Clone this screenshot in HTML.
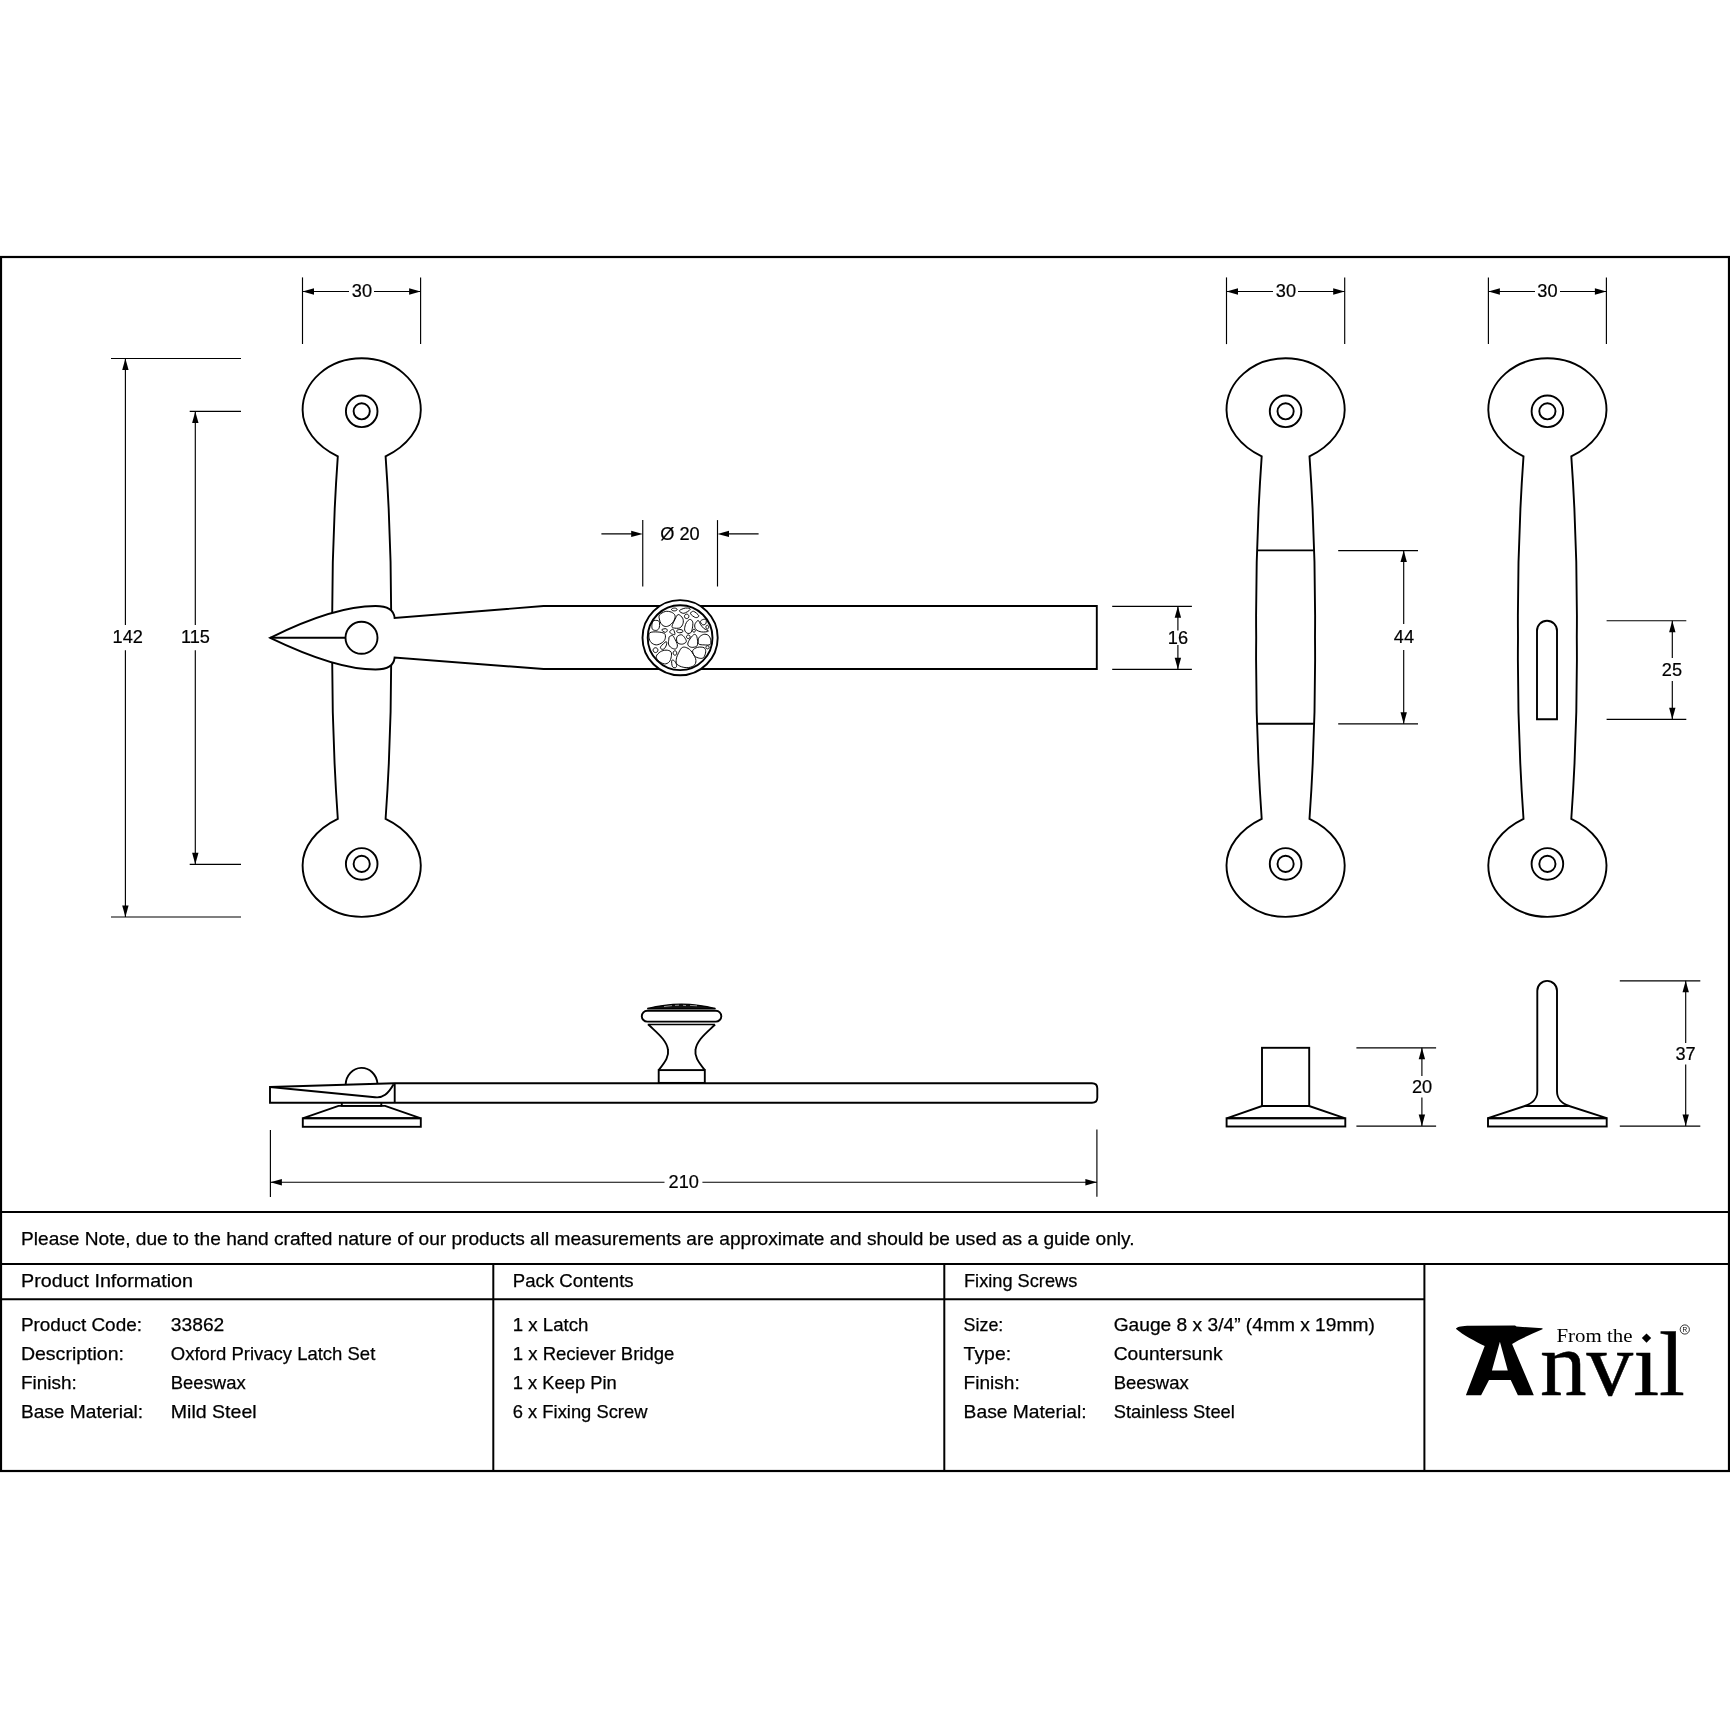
<!DOCTYPE html><html><head><meta charset="utf-8"><style>html,body{margin:0;padding:0;background:#fff;}svg{display:block;will-change:transform;} .d{font-family:"Liberation Sans",sans-serif;fill:#000;stroke:#000;stroke-width:0.2px;} .t{font-family:"Liberation Sans",sans-serif;fill:#000;font-size:18.6px;stroke:#000;stroke-width:0.25px;}</style></head><body>
<svg width="1730" height="1730" viewBox="0 0 1730 1730">
<rect x="0" y="0" width="1730" height="1730" fill="#fff"/>
<path d="M337.8,456.4 C316.0,446 302.6,428 302.6,410 C302.6,381.3 329.1,358.3 361.7,358.3 C394.3,358.3 420.8,381.3 420.8,410 C420.8,428 407.4,446 385.6,456.4 Q392.0,547 391.1,637.6 Q392.0,728 385.6,818.8 C407.4,829.2 420.8,847.2 420.8,865.2 C420.8,893.9 394.3,916.9 361.7,916.9 C329.1,916.9 302.6,893.9 302.6,865.2 C302.6,847.2 316.0,829.2 337.8,818.8 Q331.4,728 332.3,637.6 Q331.4,547 337.8,456.4 Z" stroke="#000" stroke-width="1.9" fill="none"/>
<circle cx="361.7" cy="411.3" r="15.8" stroke="#000" stroke-width="1.9" fill="none"/>
<circle cx="361.7" cy="411.3" r="8.1" stroke="#000" stroke-width="1.9" fill="none"/>
<circle cx="361.7" cy="863.9" r="15.8" stroke="#000" stroke-width="1.9" fill="none"/>
<circle cx="361.7" cy="863.9" r="8.1" stroke="#000" stroke-width="1.9" fill="none"/>
<path d="M270.2,637.8 C310,618 345,606 375.5,606 C388,606 394,611 394.6,618 L543.5,606 L1096.8,606 L1096.8,669 L543.5,669 L394.6,657.6 C394,664.5 388,669.5 375.5,669.5 C345,669.5 310,657 270.2,637.8 Z" fill="#fff" stroke="#000" stroke-width="1.9" stroke-linejoin="miter"/>
<line x1="270.2" y1="637.8" x2="345.5" y2="637.8" stroke="#000" stroke-width="1.9" fill="none"/>
<circle cx="361.5" cy="637.8" r="16" stroke="#000" stroke-width="1.9" fill="none"/>
<circle cx="680.1" cy="637.7" r="37.6" fill="#fff" stroke="#000" stroke-width="1.9"/>
<circle cx="680.1" cy="637.7" r="32.4" fill="#fff" stroke="#000" stroke-width="1.9"/>
<clipPath id="kc"><circle cx="680.1" cy="637.7" r="32.4"/></clipPath><g clip-path="url(#kc)"><g transform="translate(645,602) scale(0.040463)" fill="none" stroke="#000" stroke-width="24">
<path d="M795,185 C795,193 786,204 774,210 C762,216 741,220 725,220 C709,220 688,216 676,210 C664,204 655,193 655,185 C655,177 664,166 676,160 C688,154 709,150 725,150 C741,150 762,154 774,160 C786,166 795,177 795,185 Z"/>
<path d="M850,215 C857,193 955,156 1000,150 C1045,144 1127,158 1120,180 C1113,202 1005,274 960,280 C915,286 843,237 850,215 Z"/>
<path d="M1125,290 C1117,264 1166,222 1200,230 C1234,238 1322,314 1330,340 C1338,366 1284,393 1250,385 C1216,377 1133,316 1125,290 Z"/>
<path d="M1085,355 C1085,368 1078,385 1069,394 C1060,403 1043,410 1030,410 C1017,410 1000,403 991,394 C982,385 975,368 975,355 C975,342 982,325 991,316 C1000,307 1017,300 1030,300 C1043,300 1060,307 1069,316 C1078,325 1085,342 1085,355 Z"/>
<path d="M360,320 C384,289 452,247 500,235 C548,223 610,234 650,250 C690,266 728,297 740,330 C752,363 740,410 720,450 C700,490 657,544 620,570 C583,596 537,610 500,605 C463,600 424,571 400,540 C376,509 362,457 355,420 C348,383 336,351 360,320 Z"/>
<path d="M820,310 C852,305 910,363 930,400 C950,437 952,490 940,530 C928,570 900,622 860,640 C820,658 732,648 700,640 C668,632 663,625 670,590 C677,555 715,477 740,430 C765,383 788,315 820,310 Z"/>
<path d="M200,470 C225,450 293,452 320,460 C347,468 355,490 360,520 C365,550 362,610 350,640 C338,670 317,693 290,700 C263,707 210,700 190,680 C170,660 168,615 170,580 C172,545 175,490 200,470 Z"/>
<path d="M1120,430 C1142,435 1172,463 1180,500 C1188,537 1178,607 1170,650 C1162,693 1152,740 1130,760 C1108,780 1065,782 1040,770 C1015,758 987,725 980,690 C973,655 988,597 1000,560 C1012,523 1030,492 1050,470 C1070,448 1098,425 1120,430 Z"/>
<path d="M1300,460 C1283,475 1237,523 1230,560 C1223,597 1232,650 1260,680 C1288,710 1348,733 1400,740 C1452,747 1562,735 1570,720 C1578,705 1483,678 1450,650 C1417,622 1390,580 1370,550 C1350,520 1342,485 1330,470 C1318,455 1317,445 1300,460 Z"/>
<path d="M1370,480 C1373,458 1417,437 1440,430 C1463,423 1500,422 1510,440 C1520,458 1515,520 1500,540 C1485,560 1442,570 1420,560 C1398,550 1367,502 1370,480 Z"/>
<path d="M1575,620 C1575,631 1571,644 1565,652 C1559,660 1548,665 1540,665 C1532,665 1521,660 1515,652 C1509,644 1505,631 1505,620 C1505,609 1509,596 1515,588 C1521,580 1532,575 1540,575 C1548,575 1559,580 1565,588 C1571,596 1575,609 1575,620 Z"/>
<path d="M420,680 C433,670 498,655 520,660 C542,665 553,695 550,710 C547,725 518,748 500,750 C482,752 453,732 440,720 C427,708 407,690 420,680 Z"/>
<path d="M640,700 C655,690 683,663 700,680 C717,697 747,782 740,800 C733,818 682,800 660,790 C638,780 613,755 610,740 C607,725 625,710 640,700 Z"/>
<path d="M940,720 C940,729 930,741 917,748 C904,755 879,760 860,760 C841,760 816,755 803,748 C790,741 780,729 780,720 C780,711 790,699 803,692 C816,685 841,680 860,680 C879,680 904,685 917,692 C930,699 940,711 940,720 Z"/>
<path d="M1245,710 C1245,718 1241,729 1235,735 C1229,741 1218,745 1210,745 C1202,745 1191,741 1185,735 C1179,729 1175,718 1175,710 C1175,702 1179,691 1185,685 C1191,679 1202,675 1210,675 C1218,675 1229,679 1235,685 C1241,691 1245,702 1245,710 Z"/>
<path d="M120,760 C153,737 240,737 300,740 C360,743 447,753 480,780 C513,807 508,863 500,900 C492,937 467,973 430,1000 C393,1027 327,1060 280,1060 C233,1060 180,1030 150,1000 C120,970 105,920 100,880 C95,840 87,783 120,760 Z"/>
<path d="M600,860 C615,845 658,823 680,830 C702,837 710,862 730,900 C750,938 795,1017 800,1060 C805,1103 785,1148 760,1160 C735,1172 680,1150 650,1130 C620,1110 590,1075 580,1040 C570,1005 587,950 590,920 C593,890 585,875 600,860 Z"/>
<path d="M800,850 C820,828 870,805 900,810 C930,815 960,852 980,880 C1000,908 1028,953 1020,980 C1012,1007 963,1033 930,1040 C897,1047 845,1037 820,1020 C795,1003 783,968 780,940 C777,912 780,872 800,850 Z"/>
<path d="M1115,860 C1115,871 1110,884 1102,892 C1094,900 1081,905 1070,905 C1059,905 1046,900 1038,892 C1030,884 1025,871 1025,860 C1025,849 1030,836 1038,828 C1046,820 1059,815 1070,815 C1081,815 1094,820 1102,828 C1110,836 1115,849 1115,860 Z"/>
<path d="M1200,810 C1230,790 1253,802 1270,830 C1287,858 1298,937 1300,980 C1302,1023 1305,1067 1280,1090 C1255,1113 1187,1125 1150,1120 C1113,1115 1070,1088 1060,1060 C1050,1032 1067,992 1090,950 C1113,908 1170,830 1200,810 Z"/>
<path d="M1340,870 C1362,845 1413,808 1450,800 C1487,792 1532,800 1560,820 C1588,840 1612,882 1620,920 C1628,958 1637,1027 1610,1050 C1583,1073 1507,1062 1460,1060 C1413,1058 1353,1058 1330,1040 C1307,1022 1318,978 1320,950 C1322,922 1318,895 1340,870 Z"/>
<path d="M520,980 C543,973 538,1030 530,1060 C522,1090 492,1143 470,1160 C448,1177 413,1170 400,1160 C387,1150 370,1130 390,1100 C410,1070 497,987 520,980 Z"/>
<path d="M320,1190 C320,1204 312,1222 302,1232 C292,1242 274,1250 260,1250 C246,1250 228,1242 218,1232 C208,1222 200,1204 200,1190 C200,1176 208,1158 218,1148 C228,1138 246,1130 260,1130 C274,1130 292,1138 302,1148 C312,1158 320,1176 320,1190 Z"/>
<path d="M280,1340 C288,1303 340,1255 380,1230 C420,1205 477,1190 520,1190 C563,1190 618,1203 640,1230 C662,1257 657,1308 650,1350 C643,1392 628,1450 600,1480 C572,1510 525,1535 480,1530 C435,1525 363,1482 330,1450 C297,1418 272,1377 280,1340 Z"/>
<path d="M785,1260 C785,1273 780,1290 772,1299 C764,1308 751,1315 740,1315 C729,1315 716,1308 708,1299 C700,1290 695,1273 695,1260 C695,1247 700,1230 708,1221 C716,1212 729,1205 740,1205 C751,1205 764,1212 772,1221 C780,1230 785,1247 785,1260 Z"/>
<path d="M820,1280 C840,1240 870,1167 900,1140 C930,1113 962,1110 1000,1120 C1038,1130 1088,1153 1130,1200 C1172,1247 1233,1342 1250,1400 C1267,1458 1258,1513 1230,1550 C1202,1587 1135,1612 1080,1620 C1025,1628 950,1617 900,1600 C850,1583 800,1557 780,1520 C760,1483 773,1420 780,1380 C787,1340 800,1320 820,1280 Z"/>
<path d="M1180,1200 C1193,1165 1253,1132 1300,1120 C1347,1108 1427,1112 1460,1130 C1493,1148 1502,1190 1500,1230 C1498,1270 1475,1343 1450,1370 C1425,1397 1388,1397 1350,1390 C1312,1383 1248,1362 1220,1330 C1192,1298 1167,1235 1180,1200 Z"/>
<path d="M1585,1120 C1585,1129 1580,1141 1573,1148 C1566,1155 1554,1160 1545,1160 C1536,1160 1524,1155 1517,1148 C1510,1141 1505,1129 1505,1120 C1505,1111 1510,1099 1517,1092 C1524,1085 1536,1080 1545,1080 C1554,1080 1566,1085 1573,1092 C1580,1099 1585,1111 1585,1120 Z"/>
<path d="M660,1450 C667,1425 700,1433 720,1450 C740,1467 773,1522 780,1550 C787,1578 777,1612 760,1620 C743,1628 697,1628 680,1600 C663,1572 653,1475 660,1450 Z"/>
</g></g>
<line x1="302.5" y1="277.4" x2="302.5" y2="344.0" stroke="#000" stroke-width="1.15" fill="none"/>
<line x1="420.6" y1="277.4" x2="420.6" y2="344.0" stroke="#000" stroke-width="1.15" fill="none"/>
<line x1="302.5" y1="291.5" x2="349" y2="291.5" stroke="#000" stroke-width="1.15" fill="none"/>
<line x1="374" y1="291.5" x2="420.6" y2="291.5" stroke="#000" stroke-width="1.15" fill="none"/>
<path d="M302.5,291.5 L314.0,288.3 L314.0,294.7 Z" fill="#000"/>
<path d="M420.6,291.5 L409.1,294.7 L409.1,288.3 Z" fill="#000"/>
<text x="361.9" y="296.8" text-anchor="middle" font-size="18.2" class="d">30</text>
<line x1="111.0" y1="358.5" x2="241.0" y2="358.5" stroke="#000" stroke-width="1.15" fill="none"/>
<line x1="111.0" y1="917.0" x2="241.0" y2="917.0" stroke="#000" stroke-width="1.15" fill="none"/>
<line x1="125.4" y1="358.5" x2="125.4" y2="625" stroke="#000" stroke-width="1.15" fill="none"/>
<line x1="125.4" y1="650.2" x2="125.4" y2="917.0" stroke="#000" stroke-width="1.15" fill="none"/>
<path d="M125.4,358.5 L128.6,370.0 L122.2,370.0 Z" fill="#000"/>
<path d="M125.4,917.0 L122.2,905.5 L128.6,905.5 Z" fill="#000"/>
<text x="127.7" y="642.9" text-anchor="middle" font-size="18.2" class="d">142</text>
<line x1="189.7" y1="411.4" x2="241.0" y2="411.4" stroke="#000" stroke-width="1.15" fill="none"/>
<line x1="189.7" y1="864.3" x2="241.0" y2="864.3" stroke="#000" stroke-width="1.15" fill="none"/>
<line x1="195.3" y1="411.4" x2="195.3" y2="625" stroke="#000" stroke-width="1.15" fill="none"/>
<line x1="195.3" y1="650.2" x2="195.3" y2="864.3" stroke="#000" stroke-width="1.15" fill="none"/>
<path d="M195.3,411.4 L198.5,422.9 L192.1,422.9 Z" fill="#000"/>
<path d="M195.3,864.3 L192.1,852.8 L198.5,852.8 Z" fill="#000"/>
<text x="195.4" y="642.9" text-anchor="middle" font-size="18.2" class="d">115</text>
<line x1="642.75" y1="520.1" x2="642.75" y2="586.5" stroke="#000" stroke-width="1.15" fill="none"/>
<line x1="717.5" y1="520.1" x2="717.5" y2="586.5" stroke="#000" stroke-width="1.15" fill="none"/>
<line x1="601.4" y1="533.9" x2="636" y2="533.9" stroke="#000" stroke-width="1.15" fill="none"/>
<line x1="724" y1="533.9" x2="758.6" y2="533.9" stroke="#000" stroke-width="1.15" fill="none"/>
<path d="M642.8,533.9 L631.2,537.1 L631.2,530.7 Z" fill="#000"/>
<path d="M717.5,533.9 L729.0,530.7 L729.0,537.1 Z" fill="#000"/>
<text x="680" y="540.2" text-anchor="middle" font-size="18.2" class="d">Ø 20</text>
<line x1="1112.2" y1="606.3" x2="1191.9" y2="606.3" stroke="#000" stroke-width="1.15" fill="none"/>
<line x1="1112.2" y1="669.3" x2="1191.9" y2="669.3" stroke="#000" stroke-width="1.15" fill="none"/>
<line x1="1177.9" y1="606.3" x2="1177.9" y2="630.5" stroke="#000" stroke-width="1.15" fill="none"/>
<line x1="1177.9" y1="645" x2="1177.9" y2="669.3" stroke="#000" stroke-width="1.15" fill="none"/>
<path d="M1177.9,606.3 L1181.1,617.8 L1174.7,617.8 Z" fill="#000"/>
<path d="M1177.9,669.3 L1174.7,657.8 L1181.1,657.8 Z" fill="#000"/>
<text x="1177.9" y="643.8" text-anchor="middle" font-size="18.2" class="d">16</text>
<path d="M1261.7,456.4 C1239.9,446 1226.5,428 1226.5,410 C1226.5,381.3 1253.0,358.3 1285.6,358.3 C1318.2,358.3 1344.7,381.3 1344.7,410 C1344.7,428 1331.3,446 1309.5,456.4 Q1315.9,547 1315.0,637.6 Q1315.9,728 1309.5,818.8 C1331.3,829.2 1344.7,847.2 1344.7,865.2 C1344.7,893.9 1318.2,916.9 1285.6,916.9 C1253.0,916.9 1226.5,893.9 1226.5,865.2 C1226.5,847.2 1239.9,829.2 1261.7,818.8 Q1255.3,728 1256.2,637.6 Q1255.3,547 1261.7,456.4 Z" stroke="#000" stroke-width="1.9" fill="none"/>
<circle cx="1285.6" cy="411.3" r="15.8" stroke="#000" stroke-width="1.9" fill="none"/>
<circle cx="1285.6" cy="411.3" r="8.1" stroke="#000" stroke-width="1.9" fill="none"/>
<circle cx="1285.6" cy="863.9" r="15.8" stroke="#000" stroke-width="1.9" fill="none"/>
<circle cx="1285.6" cy="863.9" r="8.1" stroke="#000" stroke-width="1.9" fill="none"/>
<line x1="1257.3" y1="550.4" x2="1313.9" y2="550.4" stroke="#000" stroke-width="1.9" fill="none"/>
<line x1="1257.3" y1="723.7" x2="1313.9" y2="723.7" stroke="#000" stroke-width="1.9" fill="none"/>
<line x1="1226.5" y1="277.4" x2="1226.5" y2="344.1" stroke="#000" stroke-width="1.15" fill="none"/>
<line x1="1344.7" y1="277.4" x2="1344.7" y2="344.1" stroke="#000" stroke-width="1.15" fill="none"/>
<line x1="1226.5" y1="291.5" x2="1273" y2="291.5" stroke="#000" stroke-width="1.15" fill="none"/>
<line x1="1298" y1="291.5" x2="1344.7" y2="291.5" stroke="#000" stroke-width="1.15" fill="none"/>
<path d="M1226.5,291.5 L1238.0,288.3 L1238.0,294.7 Z" fill="#000"/>
<path d="M1344.7,291.5 L1333.2,294.7 L1333.2,288.3 Z" fill="#000"/>
<text x="1285.9" y="296.8" text-anchor="middle" font-size="18.2" class="d">30</text>
<line x1="1338.2" y1="550.6" x2="1418.0" y2="550.6" stroke="#000" stroke-width="1.15" fill="none"/>
<line x1="1338.2" y1="723.8" x2="1418.0" y2="723.8" stroke="#000" stroke-width="1.15" fill="none"/>
<line x1="1403.7" y1="550.6" x2="1403.7" y2="624" stroke="#000" stroke-width="1.15" fill="none"/>
<line x1="1403.7" y1="650" x2="1403.7" y2="723.8" stroke="#000" stroke-width="1.15" fill="none"/>
<path d="M1403.7,550.6 L1406.9,562.1 L1400.5,562.1 Z" fill="#000"/>
<path d="M1403.7,723.8 L1400.5,712.3 L1406.9,712.3 Z" fill="#000"/>
<text x="1403.9" y="642.6" text-anchor="middle" font-size="18.2" class="d">44</text>
<path d="M1523.5,456.4 C1501.7,446 1488.3,428 1488.3,410 C1488.3,381.3 1514.8,358.3 1547.4,358.3 C1580.0,358.3 1606.5,381.3 1606.5,410 C1606.5,428 1593.1,446 1571.3,456.4 Q1577.7,547 1576.8,637.6 Q1577.7,728 1571.3,818.8 C1593.1,829.2 1606.5,847.2 1606.5,865.2 C1606.5,893.9 1580.0,916.9 1547.4,916.9 C1514.8,916.9 1488.3,893.9 1488.3,865.2 C1488.3,847.2 1501.7,829.2 1523.5,818.8 Q1517.1,728 1518.0,637.6 Q1517.1,547 1523.5,456.4 Z" stroke="#000" stroke-width="1.9" fill="none"/>
<circle cx="1547.4" cy="411.3" r="15.8" stroke="#000" stroke-width="1.9" fill="none"/>
<circle cx="1547.4" cy="411.3" r="8.1" stroke="#000" stroke-width="1.9" fill="none"/>
<circle cx="1547.4" cy="863.9" r="15.8" stroke="#000" stroke-width="1.9" fill="none"/>
<circle cx="1547.4" cy="863.9" r="8.1" stroke="#000" stroke-width="1.9" fill="none"/>
<path d="M1537,719.2 L1537,630.7 A10,10 0 0 1 1557,630.7 L1557,719.2 Z" stroke="#000" stroke-width="1.9" fill="none"/>
<line x1="1488.4" y1="277.4" x2="1488.4" y2="344.1" stroke="#000" stroke-width="1.15" fill="none"/>
<line x1="1606.4" y1="277.4" x2="1606.4" y2="344.1" stroke="#000" stroke-width="1.15" fill="none"/>
<line x1="1488.4" y1="291.5" x2="1535" y2="291.5" stroke="#000" stroke-width="1.15" fill="none"/>
<line x1="1560" y1="291.5" x2="1606.4" y2="291.5" stroke="#000" stroke-width="1.15" fill="none"/>
<path d="M1488.4,291.5 L1499.9,288.3 L1499.9,294.7 Z" fill="#000"/>
<path d="M1606.4,291.5 L1594.9,294.7 L1594.9,288.3 Z" fill="#000"/>
<text x="1547.4" y="296.8" text-anchor="middle" font-size="18.2" class="d">30</text>
<line x1="1606.6" y1="620.7" x2="1686.3" y2="620.7" stroke="#000" stroke-width="1.15" fill="none"/>
<line x1="1606.6" y1="719.3" x2="1686.3" y2="719.3" stroke="#000" stroke-width="1.15" fill="none"/>
<line x1="1672.3" y1="620.7" x2="1672.3" y2="658" stroke="#000" stroke-width="1.15" fill="none"/>
<line x1="1672.3" y1="681" x2="1672.3" y2="719.3" stroke="#000" stroke-width="1.15" fill="none"/>
<path d="M1672.3,620.7 L1675.5,632.2 L1669.1,632.2 Z" fill="#000"/>
<path d="M1672.3,719.3 L1669.1,707.8 L1675.5,707.8 Z" fill="#000"/>
<text x="1671.9" y="675.9" text-anchor="middle" font-size="18.2" class="d">25</text>
<path d="M270,1087 L394.6,1083.2 L1092,1083.2 Q1097.3,1083.2 1097.3,1088.5 L1097.3,1097.5 Q1097.3,1102.8 1092,1102.8 L270,1102.8 Z" stroke="#000" stroke-width="1.9" fill="none"/>
<line x1="394.7" y1="1083.4" x2="394.7" y2="1102.7" stroke="#000" stroke-width="1.9" fill="none"/>
<path d="M270,1087 L375,1097.2 C383,1098.2 388,1094 393.6,1084.2" stroke="#000" stroke-width="1.9" fill="none"/>
<path d="M345.6,1084.6 A16,17.6 0 0 1 377.5,1083.7" stroke="#000" stroke-width="1.9" fill="none"/>
<path d="M341.8,1102.8 L341.8,1105.9 L381.3,1105.9 L381.3,1102.8" stroke="#000" stroke-width="1.9" fill="none"/>
<path d="M338.5,1105.9 L385.1,1105.9 L420.3,1118.2 L303.3,1118.2 Z" stroke="#000" stroke-width="1.9" fill="none"/>
<rect x="302.8" y="1118.2" width="118" height="8.6" stroke="#000" stroke-width="1.9" fill="none"/>
<rect x="658.7" y="1070.1" width="46.1" height="12.8" stroke="#000" stroke-width="1.9" fill="none"/>
<path d="M658.7,1070.1 C666,1061 669,1056 668,1050 C667,1040 656,1032 648.4,1024.5" stroke="#000" stroke-width="1.9" fill="none"/>
<path d="M704.8,1070.1 C697.5,1061 694.5,1056 695.5,1050 C696.5,1040 707.5,1032 715.1,1024.5" stroke="#000" stroke-width="1.9" fill="none"/>
<line x1="647.7" y1="1024.5" x2="714.7" y2="1024.5" stroke="#000" stroke-width="1.6"/>
<rect x="641.8" y="1010.8" width="79.5" height="10.8" rx="5.4" ry="5.4" stroke="#000" stroke-width="1.9" fill="none"/>
<line x1="647.4" y1="1008.5" x2="715.4" y2="1008.5" stroke="#000" stroke-width="1.6"/>
<path d="M647.4,1008.6 Q681.5,999.5 715.4,1008.6 Z" fill="#111" stroke="#000" stroke-width="1.2"/>
<path d="M664,1006.6 L672,1005.6 M675,1005.4 L679,1005.2 M683,1005.3 L686,1005.6 M690,1005.4 L697,1005.8" stroke="#fff" stroke-width="0.7" opacity="0.8"/>
<line x1="270.4" y1="1130" x2="270.4" y2="1197" stroke="#000" stroke-width="1.15" fill="none"/>
<line x1="1096.9" y1="1129.6" x2="1096.9" y2="1196.7" stroke="#000" stroke-width="1.15" fill="none"/>
<line x1="270.4" y1="1182.2" x2="664.5" y2="1182.2" stroke="#000" stroke-width="1.15" fill="none"/>
<line x1="702.4" y1="1182.2" x2="1096.9" y2="1182.2" stroke="#000" stroke-width="1.15" fill="none"/>
<path d="M270.4,1182.2 L281.9,1179.0 L281.9,1185.4 Z" fill="#000"/>
<path d="M1096.9,1182.2 L1085.4,1185.4 L1085.4,1179.0 Z" fill="#000"/>
<text x="683.8" y="1187.8" text-anchor="middle" font-size="18.2" class="d">210</text>
<rect x="1262" y="1047.8" width="47.2" height="58.2" stroke="#000" stroke-width="1.9" fill="none"/>
<path d="M1262,1106 L1309.2,1106 L1344.6,1118.2 L1227.3,1118.2 Z" stroke="#000" stroke-width="1.9" fill="none"/>
<rect x="1226.6" y="1118.2" width="118.7" height="8.3" stroke="#000" stroke-width="1.9" fill="none"/>
<line x1="1356.4" y1="1047.8" x2="1436.1" y2="1047.8" stroke="#000" stroke-width="1.15" fill="none"/>
<line x1="1356.4" y1="1126.1" x2="1436.1" y2="1126.1" stroke="#000" stroke-width="1.15" fill="none"/>
<line x1="1421.9" y1="1047.8" x2="1421.9" y2="1076" stroke="#000" stroke-width="1.15" fill="none"/>
<line x1="1421.9" y1="1097.5" x2="1421.9" y2="1126.1" stroke="#000" stroke-width="1.15" fill="none"/>
<path d="M1421.9,1047.8 L1425.1,1059.3 L1418.7,1059.3 Z" fill="#000"/>
<path d="M1421.9,1126.1 L1418.7,1114.6 L1425.1,1114.6 Z" fill="#000"/>
<text x="1422.0" y="1092.9" text-anchor="middle" font-size="18.2" class="d">20</text>
<path d="M1524.8,1106 C1533,1103 1537.3,1099 1537.3,1091 L1537.3,990.7 A9.85,9.85 0 0 1 1557,990.7 L1557,1091 C1557,1099 1561,1103 1569.2,1106" stroke="#000" stroke-width="1.9" fill="none"/>
<path d="M1524.8,1106 L1569.2,1106 L1606.7,1118.2 L1488,1118.2 Z" stroke="#000" stroke-width="1.9" fill="none"/>
<rect x="1488" y="1118.2" width="118.7" height="8.3" stroke="#000" stroke-width="1.9" fill="none"/>
<line x1="1619.8" y1="980.8" x2="1700.3" y2="980.8" stroke="#000" stroke-width="1.15" fill="none"/>
<line x1="1619.8" y1="1126.1" x2="1700.3" y2="1126.1" stroke="#000" stroke-width="1.15" fill="none"/>
<line x1="1685.7" y1="980.8" x2="1685.7" y2="1043" stroke="#000" stroke-width="1.15" fill="none"/>
<line x1="1685.7" y1="1064.5" x2="1685.7" y2="1126.1" stroke="#000" stroke-width="1.15" fill="none"/>
<path d="M1685.7,980.8 L1688.9,992.3 L1682.5,992.3 Z" fill="#000"/>
<path d="M1685.7,1126.1 L1682.5,1114.6 L1688.9,1114.6 Z" fill="#000"/>
<text x="1685.6" y="1059.9" text-anchor="middle" font-size="18.2" class="d">37</text>
<rect x="1" y="257" width="1728" height="1214" fill="none" stroke="#000" stroke-width="2.2"/>
<line x1="0" y1="1212" x2="1730" y2="1212" stroke="#000" stroke-width="2"/>
<line x1="0" y1="1264" x2="1730" y2="1264" stroke="#000" stroke-width="2"/>
<line x1="0" y1="1299.3" x2="1424.4" y2="1299.3" stroke="#000" stroke-width="2"/>
<line x1="493.3" y1="1264" x2="493.3" y2="1471" stroke="#000" stroke-width="2"/>
<line x1="944.3" y1="1264" x2="944.3" y2="1471" stroke="#000" stroke-width="2"/>
<line x1="1424.4" y1="1264" x2="1424.4" y2="1471" stroke="#000" stroke-width="2"/>
<text x="21.0" y="1245.1" class="t" textLength="1113.5" lengthAdjust="spacingAndGlyphs">Please Note, due to the hand crafted nature of our products all measurements are approximate and should be used as a guide only.</text>
<text x="21.0" y="1286.9" class="t" textLength="172.0" lengthAdjust="spacingAndGlyphs">Product Information</text>
<text x="512.8" y="1287" class="t" textLength="120.8" lengthAdjust="spacingAndGlyphs">Pack Contents</text>
<text x="964.0" y="1287" class="t" textLength="113.3" lengthAdjust="spacingAndGlyphs">Fixing Screws</text>
<text x="20.9" y="1331.0" class="t" textLength="121.1" lengthAdjust="spacingAndGlyphs">Product Code:</text>
<text x="170.8" y="1331.0" class="t" textLength="53.5" lengthAdjust="spacingAndGlyphs">33862</text>
<text x="20.9" y="1360.2" class="t" textLength="103.1" lengthAdjust="spacingAndGlyphs">Description:</text>
<text x="170.8" y="1360.2" class="t" textLength="204.5" lengthAdjust="spacingAndGlyphs">Oxford Privacy Latch Set</text>
<text x="20.9" y="1389.4" class="t" textLength="55.8" lengthAdjust="spacingAndGlyphs">Finish:</text>
<text x="170.8" y="1389.4" class="t" textLength="74.9" lengthAdjust="spacingAndGlyphs">Beeswax</text>
<text x="20.9" y="1418.4" class="t" textLength="122.3" lengthAdjust="spacingAndGlyphs">Base Material:</text>
<text x="170.8" y="1418.4" class="t" textLength="85.8" lengthAdjust="spacingAndGlyphs">Mild Steel</text>
<text x="512.8" y="1331.0" class="t" textLength="75.7" lengthAdjust="spacingAndGlyphs">1 x Latch</text>
<text x="512.8" y="1360.2" class="t" textLength="161.6" lengthAdjust="spacingAndGlyphs">1 x Reciever Bridge</text>
<text x="512.8" y="1389.4" class="t" textLength="103.9" lengthAdjust="spacingAndGlyphs">1 x Keep Pin</text>
<text x="512.8" y="1418.4" class="t" textLength="134.6" lengthAdjust="spacingAndGlyphs">6 x Fixing Screw</text>
<text x="963.6" y="1331.0" class="t" textLength="39.7" lengthAdjust="spacingAndGlyphs">Size:</text>
<text x="1113.7" y="1331.0" class="t" textLength="261.1" lengthAdjust="spacingAndGlyphs">Gauge 8 x 3/4” (4mm x 19mm)</text>
<text x="963.6" y="1360.2" class="t" textLength="47.5" lengthAdjust="spacingAndGlyphs">Type:</text>
<text x="1113.7" y="1360.2" class="t" textLength="108.9" lengthAdjust="spacingAndGlyphs">Countersunk</text>
<text x="963.6" y="1389.4" class="t" textLength="56.1" lengthAdjust="spacingAndGlyphs">Finish:</text>
<text x="1113.7" y="1389.4" class="t" textLength="75.1" lengthAdjust="spacingAndGlyphs">Beeswax</text>
<text x="963.6" y="1418.4" class="t" textLength="123.0" lengthAdjust="spacingAndGlyphs">Base Material:</text>
<text x="1113.7" y="1418.4" class="t" textLength="121.2" lengthAdjust="spacingAndGlyphs">Stainless Steel</text>
<path d="M1455.8,1328.7 C1458,1326.5 1462,1326 1470,1325.8 L1515,1325.4 L1516.5,1326.6 L1542.5,1328.2 L1542.5,1329.3 C1532,1334 1520,1339 1512.1,1343.9 L1533.8,1395.2 L1517.9,1395.2 L1510.7,1380 L1489,1380 L1481.1,1395.2 L1465.9,1395.2 L1484.7,1346.1 C1475,1341 1463,1335 1455.8,1328.7 Z M1491.9,1370.6 L1507.8,1370.6 L1499.9,1341.7 Z" fill="#000" fill-rule="evenodd"/>
<text x="1540" y="1395.2" font-family="Liberation Serif" font-size="92" fill="#000" stroke="#000" stroke-width="0.5" textLength="145" lengthAdjust="spacingAndGlyphs">nvıl</text>
<text x="1556.5" y="1341.7" font-family="Liberation Serif" font-size="19.5" fill="#000" textLength="76" lengthAdjust="spacingAndGlyphs">From the</text>
<rect x="1643.2" y="1334.8" width="6.6" height="6.6" transform="rotate(45 1646.5 1338.1)" fill="#000"/>
<circle cx="1684.8" cy="1329.5" r="4.6" fill="none" stroke="#000" stroke-width="0.8"/>
<text x="1684.8" y="1332" text-anchor="middle" font-family="Liberation Sans" font-size="6.5" fill="#000">R</text>
</svg></body></html>
